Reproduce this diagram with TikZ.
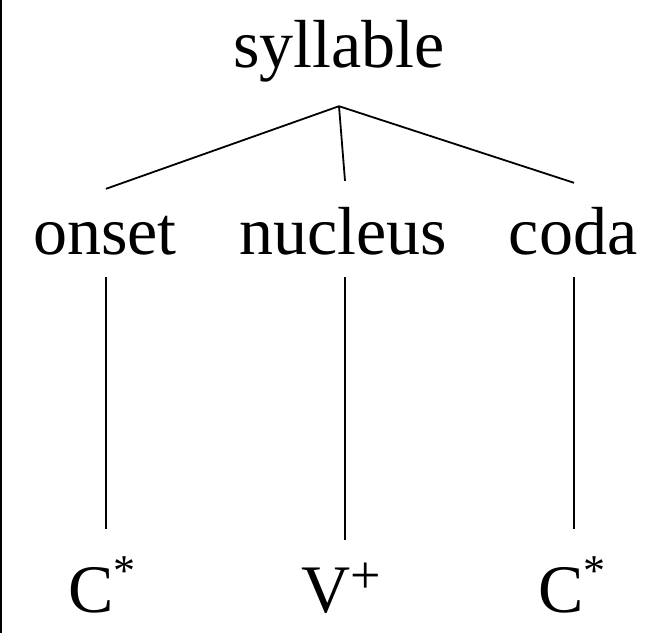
\documentclass[tikz,border=0pt]{standalone}
\usepackage{fontspec}
\setmainfont{Liberation Serif}
\usepackage{tikz}
\newcommand{\upmark}[3]{\raisebox{#1}{\fontsize{#2}{#2}\selectfont #3}}

\begin{document}
\begin{tikzpicture}[x=1pt, y=-1pt,
  word/.style={font=\fontsize{68pt}{80pt}\selectfont, inner sep=0pt, anchor=base,
     text height=48pt, text depth=15pt},
  branch/.style={line width=1.8pt, draw=black},
]
\useasboundingbox (0,0) rectangle (660,633);

% left frame edge
\draw[line width=1.8pt] (0.9,0) -- (0.9,633);

% =================== NODES ===================
\node[word] (syl) at (339,67) {syllable};

\node[word] (ons) at (105,254) {onset};
\node[word] (nuc) at (343,254) {nucleus};
\node[word] (cod) at (573,254) {coda};

\node[word] (cons1) at (102,612) {C\upmark{27pt}{44pt}{*}};
\node[word] (vow) at (341,612) {V\upmark{19pt}{54pt}{+}};
\node[word] (cons2) at (572,612) {C\upmark{27pt}{44pt}{*}};

% =================== BRANCHES ===================
\draw[branch] ([yshift=-24pt]syl.south) -- ([xshift=1pt,yshift=17pt]ons.north);
\draw[branch] ([yshift=-24pt]syl.south) -- ([xshift=2pt,yshift=25pt]nuc.north);
\draw[branch] ([yshift=-24pt]syl.south) -- ([xshift=1pt,yshift=23pt]cod.north);

\draw[branch] ([xshift=1pt,yshift=-8pt]ons.south) -- ([xshift=1pt,yshift=35pt]cons1.north -| ons.south);
\draw[branch] ([xshift=2pt,yshift=-8pt]nuc.south) -- ([xshift=2pt,yshift=24pt]vow.north -| nuc.south);
\draw[branch] ([xshift=1pt,yshift=-8pt]cod.south) -- ([xshift=1pt,yshift=35pt]cons2.north -| cod.south);
\end{tikzpicture}
\end{document}
